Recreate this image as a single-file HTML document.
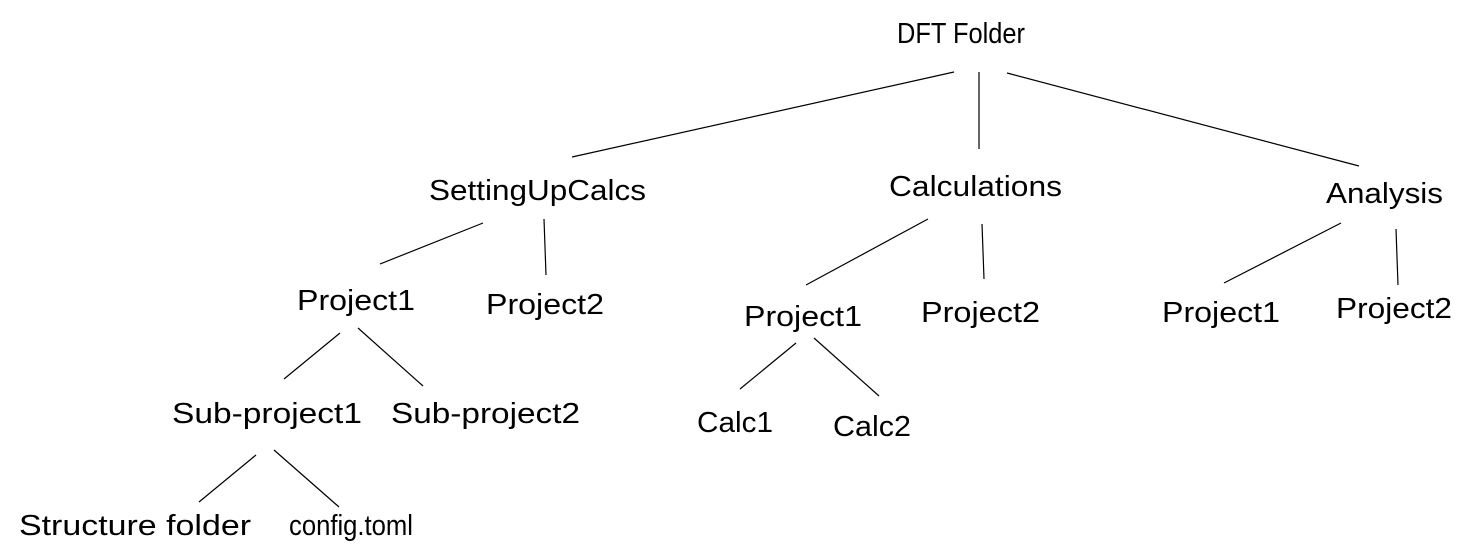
<!DOCTYPE html>
<html><head><meta charset="utf-8"><style>
html,body{margin:0;padding:0;background:#fff;}
svg{display:block;}
text{font-family:"Liberation Sans",sans-serif;font-size:29px;fill:#000;}
line{stroke:#000;stroke-width:1.2;}
</style></head><body>
<svg width="1472" height="552" viewBox="0 0 1472 552" xmlns="http://www.w3.org/2000/svg">
<text x="897" y="43" textLength="128" lengthAdjust="spacingAndGlyphs">DFT Folder</text>
<line x1="954" y1="72" x2="572" y2="157"/>
<line x1="979" y1="72" x2="979" y2="149"/>
<line x1="1007" y1="73" x2="1359" y2="166"/>

<text x="429" y="200" textLength="217" lengthAdjust="spacingAndGlyphs">SettingUpCalcs</text>
<text x="889" y="196" textLength="173" lengthAdjust="spacingAndGlyphs">Calculations</text>
<text x="1326" y="203" textLength="117" lengthAdjust="spacingAndGlyphs">Analysis</text>

<line x1="483" y1="223" x2="380" y2="264"/>
<line x1="544" y1="219" x2="546" y2="275"/>
<line x1="928" y1="219" x2="806" y2="285"/>
<line x1="982" y1="224" x2="984" y2="279"/>
<line x1="1341" y1="223" x2="1224" y2="283"/>
<line x1="1396" y1="229" x2="1398" y2="285"/>

<text x="297" y="310" textLength="118" lengthAdjust="spacingAndGlyphs">Project1</text>
<text x="486" y="314" textLength="118" lengthAdjust="spacingAndGlyphs">Project2</text>
<text x="744" y="326" textLength="118" lengthAdjust="spacingAndGlyphs">Project1</text>
<text x="921" y="322" textLength="119" lengthAdjust="spacingAndGlyphs">Project2</text>
<text x="1162" y="322" textLength="118" lengthAdjust="spacingAndGlyphs">Project1</text>
<text x="1336" y="318" textLength="116" lengthAdjust="spacingAndGlyphs">Project2</text>

<line x1="340" y1="333" x2="284" y2="379"/>
<line x1="358" y1="328" x2="423" y2="386"/>
<line x1="796" y1="343" x2="740" y2="389"/>
<line x1="814" y1="338" x2="879" y2="396"/>

<text x="172" y="423" textLength="190" lengthAdjust="spacingAndGlyphs">Sub-project1</text>
<text x="391" y="423" textLength="189" lengthAdjust="spacingAndGlyphs">Sub-project2</text>
<text x="697" y="432" textLength="76" lengthAdjust="spacingAndGlyphs">Calc1</text>
<text x="833" y="436" textLength="78" lengthAdjust="spacingAndGlyphs">Calc2</text>

<line x1="256" y1="455" x2="199" y2="502"/>
<line x1="274" y1="450" x2="339" y2="507"/>

<text x="19" y="535" textLength="232" lengthAdjust="spacingAndGlyphs">Structure folder</text>
<text x="289" y="535" textLength="124" lengthAdjust="spacingAndGlyphs">config.toml</text>
</svg>
</body></html>
